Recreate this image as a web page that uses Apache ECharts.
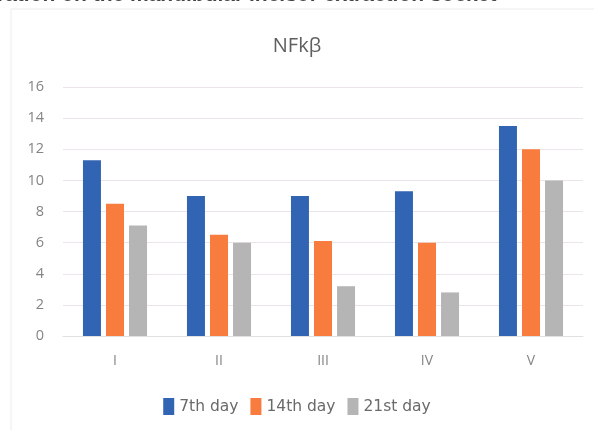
<!DOCTYPE html>
<html>
<head>
<meta charset="utf-8">
<script src="https://cdn.jsdelivr.net/npm/echarts@6/dist/echarts.min.js"></script>
<style>
  html, body { margin: 0; padding: 0; background: #fff; }
  #chart { width: 594px; height: 430px; }
</style>
</head>
<body>
<div id="chart"></div>
<script>
// Data
const groups = ['I', 'II', 'III', 'IV', 'V'];
const day7 = [11.3, 9.0, 9.0, 9.3, 13.5];
const day14 = [8.5, 6.5, 6.1, 6.0, 12.0];
const day21 = [7.1, 6.0, 3.2, 2.8, 10.0];
const yTicks = [0, 2, 4, 6, 8, 10, 12, 14, 16];

const chart = echarts.init(document.getElementById('chart'));

function barSeries(name, data, color) {
    return {
        name: name,
        type: 'bar',
        data: data,
        barWidth: 18,
        barGap: '28%',
        itemStyle: { color: color }
    };
}

const option = {
    backgroundColor: '#fff',
    animation: false,
    title: {
        text: 'NFkβ',
        left: 'center',
        top: 31,
        textStyle: {
            fontFamily: 'Open Sans',
            fontSize: 20,
            fontWeight: 'normal',
            color: '#5f5f5f'
        }
    },
    graphic: [
        {
            // caption of the page above the chart, cut off by the crop
            type: 'text',
            left: -3,
            top: -15,
            style: {
                text: 'ration on the mandibular incisor extraction socket',
                font: 'bold 21px "Liberation Sans"',
                fill: '#444'
            }
        },
        {
            type: 'rect',
            shape: { x: 11, y: 9, width: 600, height: 440 },
            style: { fill: 'none', stroke: '#ececec', lineWidth: 1 }
        }
    ],
    legend: {
        bottom: 10,
        left: 'center',
        itemWidth: 11,
        itemHeight: 17,
        itemGap: 12,
        icon: 'rect',
        textStyle: {
            fontFamily: 'DejaVu Sans',
            fontSize: 15.5,
            color: '#6a6a6a'
        },
        data: ['7th day', '14th day', '21st day']
    },
    grid: {
        left: 63,
        right: 11,
        top: 87,
        bottom: 94
    },
    xAxis: {
        type: 'category',
        data: groups,
        axisLine: { lineStyle: { color: '#e2dfe2' } },
        axisTick: { show: false },
        axisLabel: {
            margin: 18,
            fontFamily: 'Open Sans',
            fontSize: 14,
            color: '#858585'
        }
    },
    yAxis: {
        type: 'value',
        min: yTicks[0],
        max: yTicks[yTicks.length - 1],
        interval: 2,
        axisLine: { show: false },
        axisTick: { show: false },
        axisLabel: {
            margin: 19,
            fontFamily: 'Open Sans',
            fontSize: 14.5,
            color: '#858585'
        },
        splitLine: { lineStyle: { color: '#ebe4ea' } }
    },
    series: [
        barSeries('7th day', day7, '#3264b4'),
        barSeries('14th day', day14, '#f87c3e'),
        barSeries('21st day', day21, '#b5b5b5')
    ]
};

chart.setOption(option);
</script>
</body>
</html>
